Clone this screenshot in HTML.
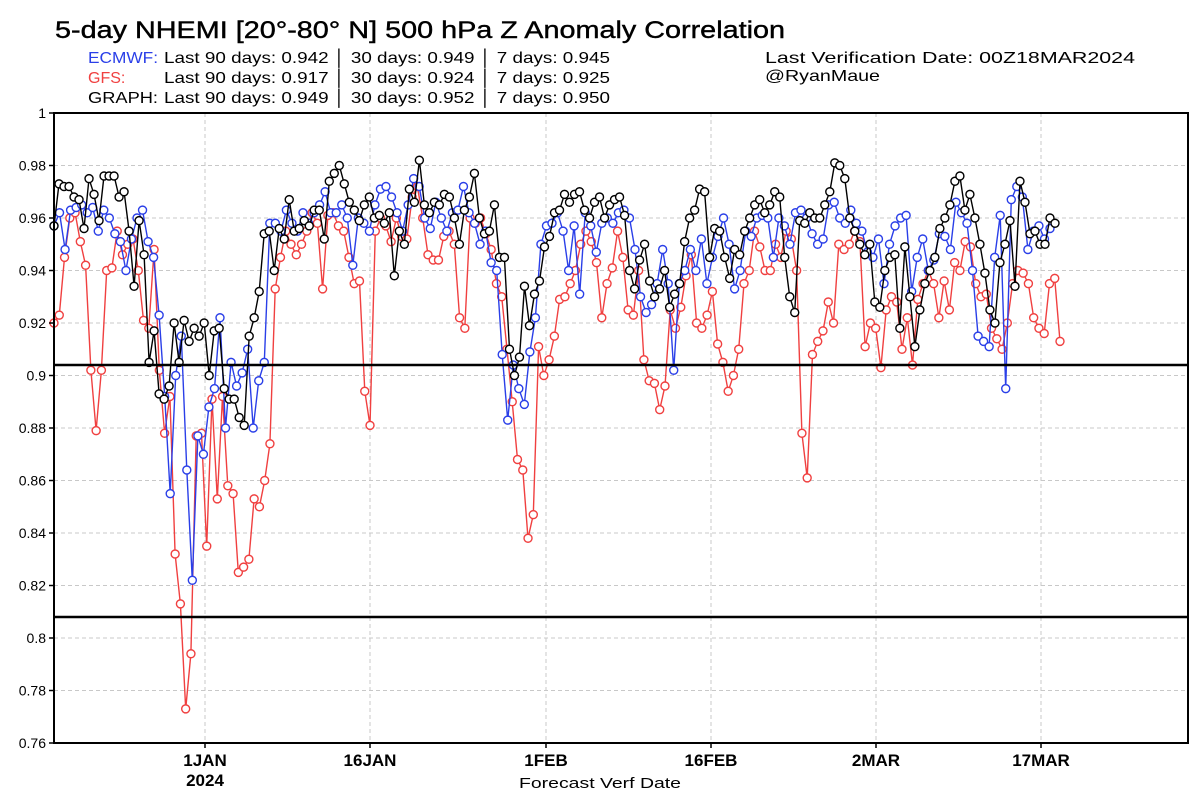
<!DOCTYPE html>
<html><head><meta charset="utf-8"><style>
body{margin:0;background:#fff}
svg{display:block;font-family:"Liberation Sans","DejaVu Sans",sans-serif}
</style></head><body>
<svg id="chart" width="1200" height="800" viewBox="0 0 1200 800">
<text x="55" y="38" font-size="24" fill="#000" textLength="730" lengthAdjust="spacingAndGlyphs" stroke="#000" stroke-width="0.4">5-day NHEMI [20°-80° N] 500 hPa Z Anomaly Correlation</text>
<g font-size="16">
<text x="88" y="63" fill="#2a3fe8" textLength="70" lengthAdjust="spacingAndGlyphs">ECMWF:</text>
<text x="164" y="63" fill="#000" textLength="446" lengthAdjust="spacingAndGlyphs">Last 90 days: 0.942 │ 30 days: 0.949 │ 7 days: 0.945</text>
<text x="88" y="83" fill="#f04040">GFS:</text>
<text x="164" y="83" fill="#000" textLength="446" lengthAdjust="spacingAndGlyphs">Last 90 days: 0.917 │ 30 days: 0.924 │ 7 days: 0.925</text>
<text x="88" y="103" fill="#000" textLength="70" lengthAdjust="spacingAndGlyphs">GRAPH:</text>
<text x="164" y="103" fill="#000" textLength="446" lengthAdjust="spacingAndGlyphs">Last 90 days: 0.949 │ 30 days: 0.952 │ 7 days: 0.950</text>
</g>
<text x="765" y="63" font-size="16" textLength="370" lengthAdjust="spacingAndGlyphs">Last Verification Date: 00Z18MAR2024</text>
<text x="765" y="81" font-size="16" textLength="115" lengthAdjust="spacingAndGlyphs">@RyanMaue</text>
<g id="grid"></g>
<g id="series"></g>
<rect x="54" y="113" width="1134" height="630" fill="none" stroke="#000" stroke-width="2"/>
<g id="axes"></g>
<text x="600" y="788" font-size="15" text-anchor="middle" textLength="162" lengthAdjust="spacingAndGlyphs">Forecast Verf Date</text>
</svg>
<script>
const yTicks=[1,0.98,0.96,0.94,0.92,0.9,0.88,0.86,0.84,0.82,0.8,0.78,0.76];
const yTickLabels=["1","0.98","0.96","0.94","0.92","0.9","0.88","0.86","0.84","0.82","0.8","0.78","0.76"];
const xTickDays=[0,15,31,46,61,76];
const xTickLabels=["1JAN","16JAN","1FEB","16FEB","2MAR","17MAR"];
const refLines=[0.904,0.808];
const graphVals=[.957,.973,.972,.972,.968,.967,.956,.975,.969,.959,.976,.976,.976,.968,.970,.955,.934,.959,.946,.905,.917,.893,.891,.896,.920,.905,.921,.913,.918,.915,.920,.900,.917,.918,.895,.891,.891,.884,.881,.915,.922,.932,.954,.955,.940,.956,.952,.967,.955,.956,.959,.957,.963,.963,.952,.974,.977,.980,.973,.966,.963,.959,.965,.968,.960,.961,.958,.962,.938,.955,.950,.971,.966,.982,.965,.962,.966,.965,.969,.968,.960,.950,.963,.968,.977,.960,.954,.955,.965,.945,.945,.910,.900,.907,.934,.919,.931,.936,.949,.953,.962,.963,.969,.966,.969,.970,.963,.960,.966,.968,.960,.965,.967,.968,.961,.940,.933,.944,.950,.936,.930,.933,.940,.926,.931,.935,.951,.960,.963,.971,.970,.945,.956,.955,.945,.937,.948,.946,.955,.960,.965,.967,.962,.965,.970,.968,.945,.930,.924,.959,.958,.962,.960,.960,.965,.970,.981,.980,.975,.960,.955,.950,.946,.950,.928,.926,.940,.945,.946,.918,.949,.930,.911,.925,.935,.940,.945,.956,.960,.965,.974,.976,.963,.969,.960,.950,.939,.925,.920,.943,.950,.959,.934,.974,.966,.954,.955,.950,.950,.960,.958];
const ecmwfVals=[.957,.962,.948,.963,.964,.965,.962,.964,.955,.963,.960,.954,.951,.940,.952,.960,.963,.951,.945,.923,.892,.855,.900,.915,.864,.822,.877,.870,.888,.895,.922,.880,.905,.896,.901,.910,.880,.898,.905,.958,.958,.955,.963,.958,.955,.962,.958,.962,.965,.970,.962,.962,.965,.960,.942,.960,.958,.955,.965,.971,.972,.968,.962,.955,.965,.975,.972,.960,.956,.966,.960,.955,.962,.963,.972,.962,.958,.950,.955,.943,.940,.908,.883,.904,.895,.889,.909,.922,.950,.957,.958,.962,.955,.940,.957,.931,.962,.957,.947,.958,.960,.958,.962,.963,.960,.948,.930,.924,.927,.935,.948,.935,.902,.935,.940,.948,.940,.952,.935,.945,.953,.960,.950,.933,.940,.955,.953,.960,.961,.960,.945,.960,.957,.950,.962,.963,.960,.954,.950,.952,.965,.966,.960,.958,.963,.958,.955,.947,.945,.952,.935,.950,.957,.960,.961,.932,.945,.952,.940,.944,.954,.953,.948,.966,.962,.958,.940,.915,.913,.911,.945,.961,.895,.967,.972,.968,.948,.955,.957,.952,.956];
const gfsVals=[.920,.923,.945,.960,.962,.951,.942,.902,.879,.902,.940,.941,.955,.946,.950,.952,.940,.921,.918,.948,.902,.878,.892,.832,.813,.773,.794,.877,.878,.835,.891,.853,.892,.858,.855,.825,.827,.830,.853,.850,.860,.874,.933,.945,.955,.950,.946,.950,.955,.962,.958,.933,.961,.962,.957,.955,.945,.935,.936,.894,.881,.955,.960,.957,.951,.960,.953,.952,.968,.972,.960,.946,.944,.944,.953,.955,.950,.922,.918,.960,.958,.960,.954,.948,.935,.930,.910,.890,.868,.864,.838,.847,.911,.900,.906,.915,.929,.930,.935,.940,.950,.955,.951,.943,.922,.935,.941,.955,.945,.925,.923,.940,.906,.898,.897,.887,.896,.925,.918,.926,.938,.946,.920,.918,.923,.932,.912,.905,.894,.900,.910,.935,.940,.955,.949,.940,.940,.950,.945,.955,.952,.940,.878,.861,.908,.913,.917,.928,.920,.950,.948,.950,.955,.951,.911,.920,.918,.903,.925,.930,.928,.910,.922,.904,.929,.935,.940,.935,.922,.936,.925,.943,.940,.951,.949,.935,.930,.931,.918,.914,.910,.920,.935,.940,.939,.935,.922,.918,.916,.935,.937,.913];
const NS="http://www.w3.org/2000/svg";
const L=54,R=1188,T=113,B=743,YMIN=0.76,YMAX=1.0;
const yS=v=>B-(v-YMIN)/(YMAX-YMIN)*(B-T);
const xDay=d=>205+d*11;
function mk(tag,attrs,parent){const e=document.createElementNS(NS,tag);for(const k in attrs)e.setAttribute(k,attrs[k]);parent.appendChild(e);return e;}
const grid=document.getElementById('grid'),axes=document.getElementById('axes'),ser=document.getElementById('series');
yTicks.forEach((v,i)=>{
  if(i>0&&i<yTicks.length-1){const g=mk('line',{x1:L,x2:R,y1:yS(v),y2:yS(v),stroke:'#c8c8c8','stroke-dasharray':'4,3','stroke-width':1},grid);
  
  }
  const t=mk('line',{x1:L-5,x2:L,y1:yS(v),y2:yS(v),stroke:'#000','stroke-width':1.5},axes);
  
  
  const tx=mk('text',{x:L-8,y:yS(v)+5,'font-size':14,'text-anchor':'end'},axes);tx.textContent=yTickLabels[i];
  
  
});
xTickDays.forEach((d,i)=>{
  const x=xDay(d);
  const g=mk('line',{x1:x,x2:x,y1:T,y2:B,stroke:'#c8c8c8','stroke-dasharray':'4,3','stroke-width':1},grid);
  
  
  const t=mk('line',{x1:x,x2:x,y1:B,y2:B+5,stroke:'#000','stroke-width':1.5},axes);
  
  
  const tx=mk('text',{x:x,y:B+23,'font-size':17,'text-anchor':'middle','font-weight':'bold'},axes);tx.textContent=xTickLabels[i];
  
  
});
const yr=mk('text',{x:xDay(0),y:B+43,'font-size':17,'text-anchor':'middle','font-weight':'bold'},axes);yr.textContent='2024';


refLines.forEach(v=>{const l=mk('line',{x1:L,x2:R,y1:yS(v),y2:yS(v),stroke:'#000','stroke-width':2.5},axes);
  
  });
function draw(vals,x0,x1,color,name){
  const g=mk('g',{},ser);
  
  
  const n=vals.length,step=(x1-x0)/(n-1);
  const pts=vals.map((v,i)=>[x0+i*step,yS(v)]);
  const pl=mk('polyline',{points:pts.map(p=>p[0].toFixed(1)+','+p[1].toFixed(1)).join(' '),fill:'none',stroke:color,'stroke-width':1.4},g);
  
  
  pts.forEach(p=>{const c=mk('circle',{cx:p[0],cy:p[1],r:4,fill:'#fff',stroke:color,'stroke-width':1.4},g);
    
    });
}
draw(gfsVals,54,1060,'#f04040','gfs');
draw(ecmwfVals,54,1050,'#2a3fe8','ecmwf');
draw(graphVals,54,1055,'#000','graph');
</script>
</body></html>
